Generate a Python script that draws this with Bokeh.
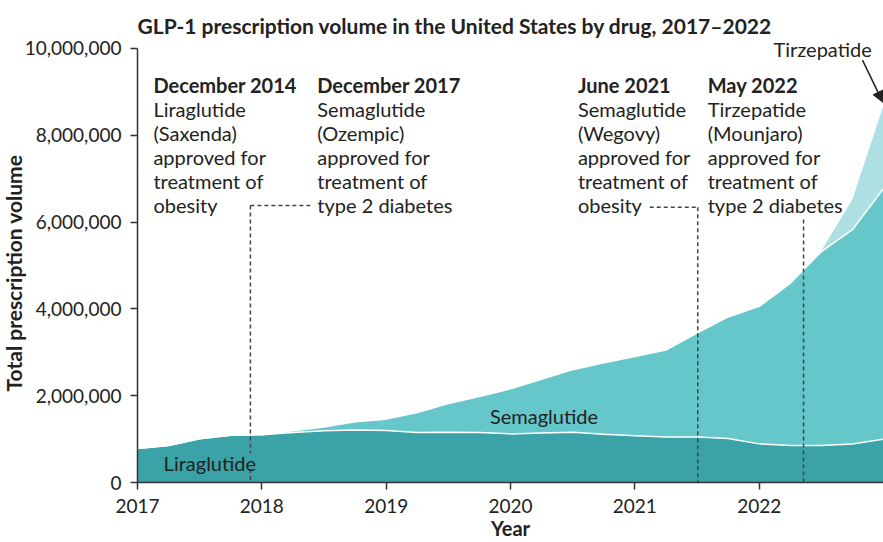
import numpy as np
from bokeh.plotting import figure
from bokeh.models import (ColumnDataSource, FixedTicker, NumeralTickFormatter, Label,
                          Arrow, NormalHead, Range1d, Title)
from bokeh.embed import file_html
from bokeh.resources import INLINE

# ---------------- data (quarterly prescription volume) ----------------
quarters = [2017.00, 2017.25, 2017.50, 2017.75,
            2018.00, 2018.25, 2018.50, 2018.75,
            2019.00, 2019.25, 2019.50, 2019.75,
            2020.00, 2020.25, 2020.50, 2020.75,
            2021.00, 2021.25, 2021.50, 2021.75,
            2022.00, 2022.25, 2022.50, 2022.75,
            2023.00]

liraglutide = [785000, 850000, 1010000, 1090000,
               1100000, 1150000, 1190000, 1210000,
               1200000, 1150000, 1160000, 1150000,
               1120000, 1140000, 1160000, 1110000,
               1080000, 1050000, 1050000, 1015000,
               890000, 850000, 850000, 885000,
               1000000]

semaglutide = [0, 0, 0, 0,
               0, 40000, 90000, 190000,
               260000, 460000, 660000, 830000,
               1040000, 1240000, 1440000, 1650000,
               1820000, 2000000, 2390000, 2800000,
               3170000, 3740000, 4470000, 4940000,
               5770000]

tirzepatide = [0, 0, 0, 0,
               0, 0, 0, 0,
               0, 0, 0, 0,
               0, 0, 0, 0,
               0, 0, 0, 0,
               0, 0, 20000, 700000,
               1920000]

year_ticks = [2017, 2018, 2019, 2020, 2021, 2022]
volume_ticks = [0, 2000000, 4000000, 6000000, 8000000, 10000000]

drug_names = ["Liraglutide", "Semaglutide", "Tirzepatide"]
drug_colors = ["#3ba3a7", "#66c7cb", "#aedfe2"]

event_headers = ["December 2014", "December 2017", "June 2021", "May 2022"]
event_texts = [
    ["Liraglutide", "(Saxenda)", "approved for", "treatment of", "obesity"],
    ["Semaglutide", "(Ozempic)", "approved for", "treatment of", "type 2 diabetes"],
    ["Semaglutide", "(Wegovy)", "approved for", "treatment of", "obesity"],
    ["Tirzepatide", "(Mounjaro)", "approved for", "treatment of", "type 2 diabetes"],
]
event_text_x = [2017.128, 2018.446, 2020.542, 2021.586]

# event marker lines (x of event)
event_line_x = [2017.908, 2021.506, 2022.357]

FONT = "Lato"
TXT = "#222222"

# ---------------- figure ----------------
p = figure(width=883, height=542, output_backend="svg", toolbar_location=None,
           x_range=Range1d(2017, 2023), y_range=Range1d(0, 10230000),
           min_border_left=137, min_border_right=0, min_border_top=38,
           min_border_bottom=60)
p.outline_line_color = None
p.grid.visible = False
p.background_fill_color = "white"

p.title.text = "GLP-1 prescription volume in the United States by drug, 2017\u20132022"
p.title.text_font = FONT
p.title.text_font_size = "21px"
p.title.text_font_style = "bold"
p.title.text_color = TXT
p.title.align = "left"
p.title.standoff = 2

src = ColumnDataSource(dict(x=quarters, lira=liraglutide, sema=semaglutide, tirz=tirzepatide))
p.varea_stack(stackers=["lira", "sema", "tirz"], x="x", color=drug_colors, source=src)

top1 = np.array(liraglutide, dtype=float)
top2 = top1 + np.array(semaglutide, dtype=float)
p.line(quarters, top1, line_color="white", line_width=1.5)
p.line(quarters, top2, line_color="white", line_width=1.5)

# ---------------- axes ----------------
for ax in (p.xaxis[0], p.yaxis[0]):
    ax.axis_line_color = "#333333"
    ax.axis_line_width = 1.5
    ax.major_tick_line_color = "#333333"
    ax.major_tick_line_width = 1.5
    ax.major_tick_in = 0
    ax.major_tick_out = 7
    ax.minor_tick_line_color = None
    ax.major_label_text_font = FONT
    ax.major_label_text_font_size = "19px"
    ax.major_label_text_color = TXT
    ax.axis_label_text_font = FONT
    ax.axis_label_text_font_size = "20px"
    ax.axis_label_text_font_style = "bold"
    ax.axis_label_text_color = TXT

p.xaxis.ticker = FixedTicker(ticks=year_ticks)
p.xaxis.axis_label = "Year"
p.xaxis.major_label_standoff = 9
p.xaxis.axis_label_standoff = 0

p.yaxis.ticker = FixedTicker(ticks=volume_ticks)
p.yaxis.bounds = (0, 10000000)
p.yaxis.formatter = NumeralTickFormatter(format="0,0")
p.yaxis.major_label_standoff = 9

# y-axis title as a left-side Title (allows vertical offset)
p.add_layout(Title(text="Total prescription volume", align="left", offset=91,
                   standoff=-9, text_font=FONT, text_font_size="21px",
                   text_font_style="bold", text_color=TXT), "left")

# ---------------- event annotations ----------------
dash = dict(line_color="#444444", line_width=1.5, line_dash="4 3")
p.segment(x0=[event_line_x[0], event_line_x[0], event_line_x[0],
              2021.12, event_line_x[1], event_line_x[2]],
          y0=[6380000, 6380000, 310000, 6340000, 6340000, 6060000],
          x1=[2018.39, event_line_x[0], event_line_x[0],
              event_line_x[1], event_line_x[1], event_line_x[2]],
          y1=[6380000, 680000, 0, 6340000, 0, 0], **dash)

top_y = 9150000
step = 550000
for hx, head, lines in zip(event_text_x, event_headers, event_texts):
    p.add_layout(Label(x=hx, y=top_y, text=head, text_font=FONT, text_font_size="20px",
                       text_font_style="bold", text_color=TXT, text_baseline="middle"))
    for i, t in enumerate(lines):
        p.add_layout(Label(x=hx, y=top_y - step * (i + 1), text=t, text_font=FONT,
                           text_font_size="20px", text_color=TXT, text_baseline="middle"))

# series labels
p.add_layout(Label(x=2017.21, y=455000, text=drug_names[0], text_font=FONT,
                   text_font_size="20px", text_color=TXT, text_baseline="middle"))
p.add_layout(Label(x=2019.835, y=1540000, text=drug_names[1], text_font=FONT,
                   text_font_size="20px", text_color=TXT, text_baseline="middle"))
p.add_layout(Label(x=2022.51, y=9980000, text=drug_names[2], text_font=FONT,
                   text_font_size="20px", text_color=TXT, text_baseline="middle",
                   text_align="center"))
p.add_layout(Arrow(end=NormalHead(size=11, fill_color="#222222", line_color="#222222"),
                   x_start=2022.831, y_start=9730000, x_end=2022.995, y_end=8760000,
                   line_color="#222222", line_width=1.5))

open("out.html", "w").write(file_html(p, INLINE))
